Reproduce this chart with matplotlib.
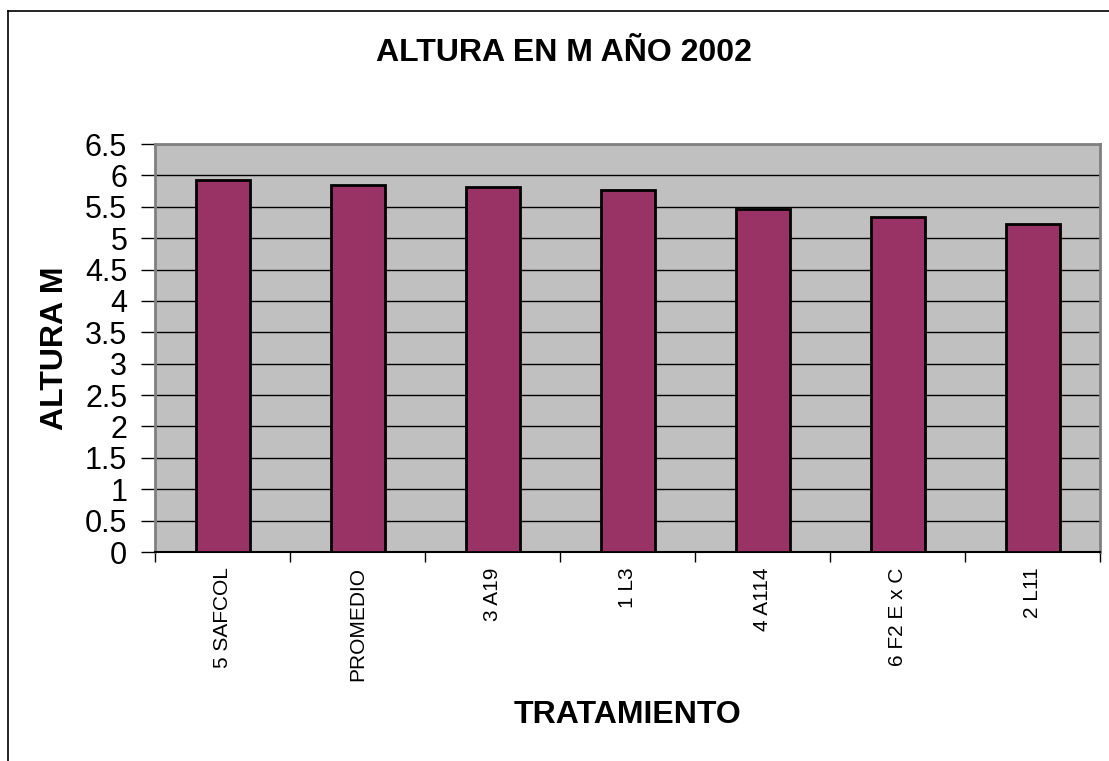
import numpy as np
import matplotlib.pyplot as plt
from matplotlib.lines import Line2D

plt.rcParams['font.family'] = ['Liberation Sans', 'DejaVu Sans']

tratamientos = ['5 SAFCOL', 'PROMEDIO', '3 A19', '1 L3', '4 A114', '6 F2 E x C', '2 L11']
altura = [5.93, 5.84, 5.81, 5.76, 5.46, 5.33, 5.23]
yticks = np.arange(0, 6.51, 0.5)
ytick_labels = ['0', '0.5', '1', '1.5', '2', '2.5', '3', '3.5', '4', '4.5', '5', '5.5', '6', '6.5']

fig = plt.figure(figsize=(11.09, 7.61), dpi=100)
ax = fig.add_axes([155 / 1109, 1 - 552 / 761, 945 / 1109, 408 / 761])
ax.set_facecolor('#C0C0C0')

x = np.arange(len(tratamientos))
ax.bar(x, altura, width=0.4, color='#993366', edgecolor='black', linewidth=2, zorder=3)

ax.set_xlim(-0.5, len(tratamientos) - 0.5)
ax.set_ylim(0, 6.5)
ax.set_yticks(yticks)
ax.set_yticklabels(ytick_labels, fontsize=22)
ax.yaxis.grid(True, color='black', linewidth=1, zorder=1)
ax.set_axisbelow(True)

# category labels at centres, tick marks between categories
ax.set_xticks(x)
ax.set_xticklabels(tratamientos, rotation=90, fontsize=15)
ax.tick_params(axis='x', which='major', length=0, pad=11)
ax.set_xticks(np.arange(-0.5, len(tratamientos)), minor=True)
ax.tick_params(axis='x', which='minor', length=7, width=1, color='black')
ax.tick_params(axis='y', length=10, width=1, color='black', pad=10)

for side in ['top', 'right', 'left']:
    ax.spines[side].set_color('#808080')
    ax.spines[side].set_linewidth(2)
ax.spines['bottom'].set_color('black')
ax.spines['bottom'].set_linewidth(1.5)

fig.text(564 / 1109, 1 - 53 / 761, 'ALTURA EN M AÑO 2002', ha='center', va='center',
         fontsize=23, fontweight='bold')
fig.text(627 / 1109, 1 - 715 / 761, 'TRATAMIENTO', ha='center', va='center',
         fontsize=23, fontweight='bold')
fig.text(55 / 1109, 1 - 348 / 761, 'ALTURA M', ha='center', va='center',
         rotation=90, fontsize=23, fontweight='bold')

# chart area border (cropped on right and bottom)
fig.add_artist(Line2D([8 / 1109, 8 / 1109], [0, 1 - 11 / 761], color='black', linewidth=1.2,
                      transform=fig.transFigure))
fig.add_artist(Line2D([8 / 1109, 1], [1 - 11 / 761, 1 - 11 / 761], color='black', linewidth=1.2,
                      transform=fig.transFigure))

fig.savefig('out.png', dpi=100)
